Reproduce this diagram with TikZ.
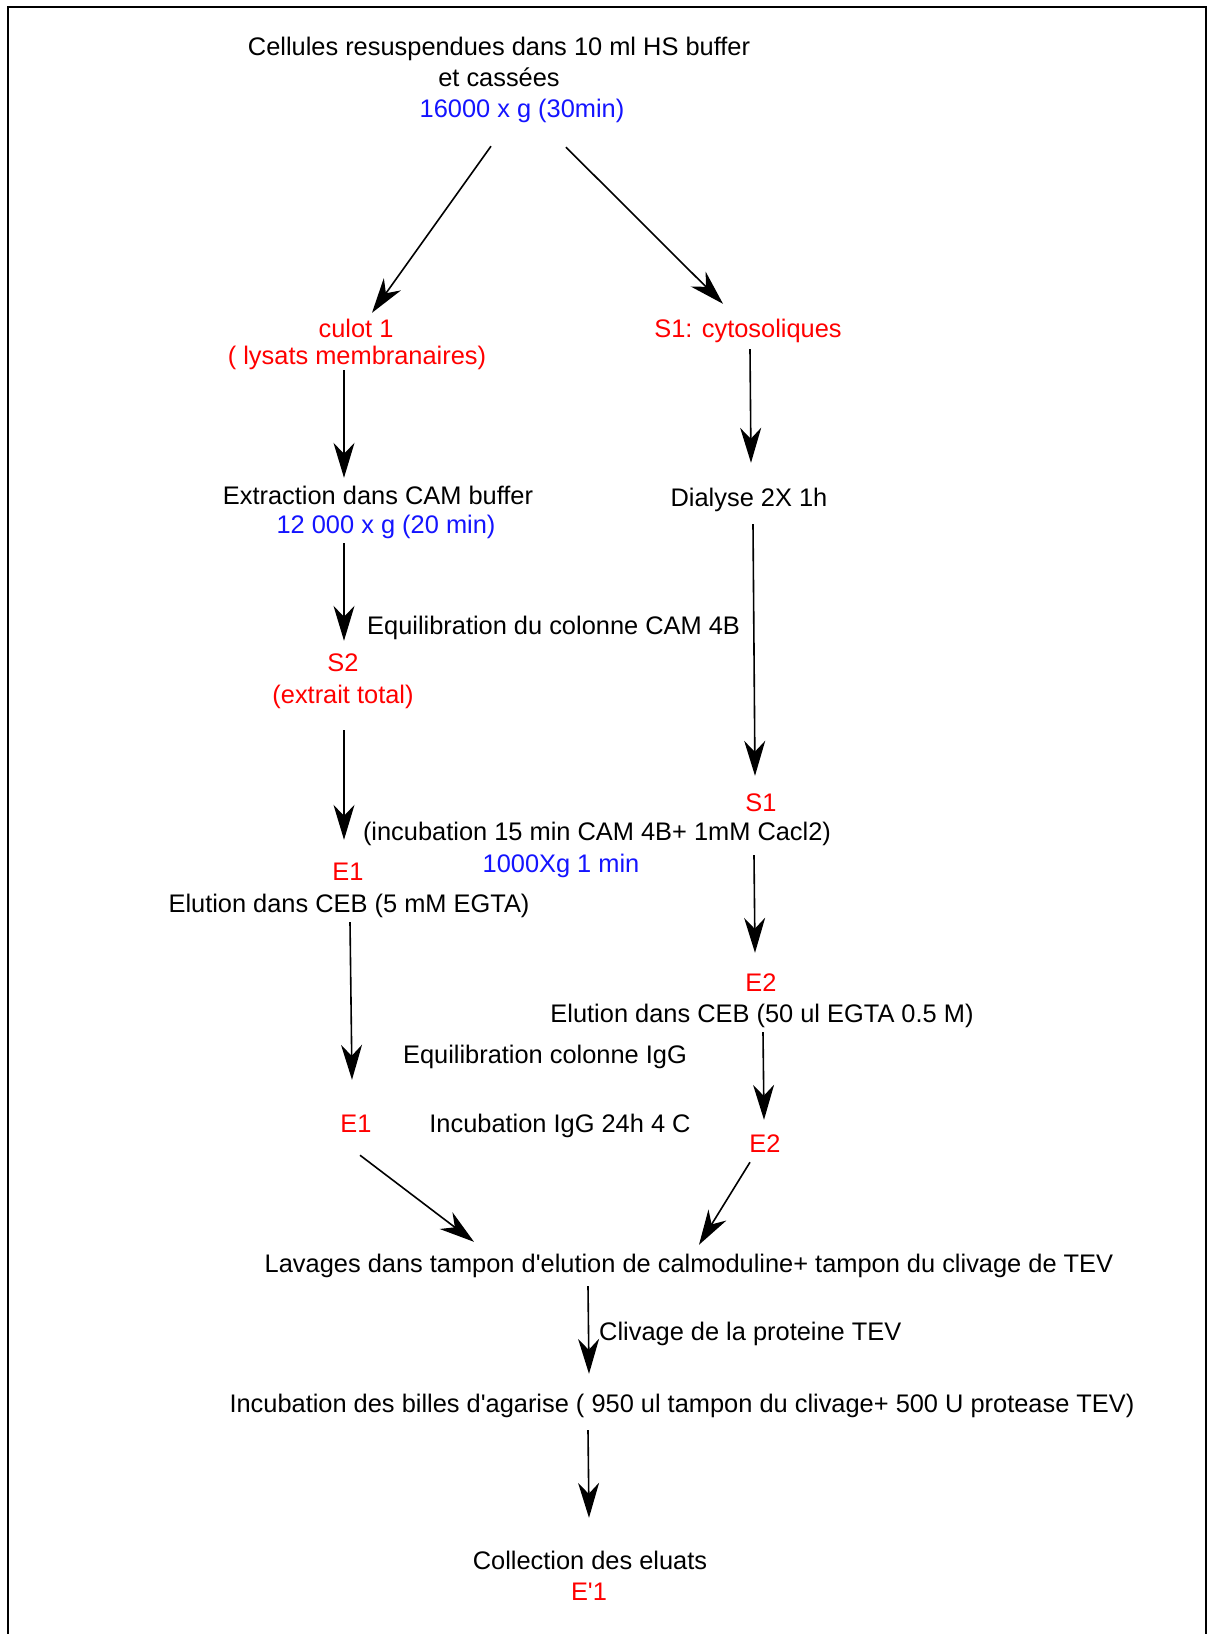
\documentclass[tikz,border=0pt]{standalone}
\usepackage{fontspec}
\setmainfont{Liberation Sans}
\usetikzlibrary{arrows.meta}
\definecolor{rouge}{RGB}{255,0,0}
\definecolor{bleu}{RGB}{20,20,255}

\begin{document}
\begin{tikzpicture}[x=1pt,y=-1pt,
  etape/.style={inner sep=0pt,text height=18pt,text depth=0pt,font=\fontsize{25.4}{30}\selectfont},
  fraction/.style={etape,text=rouge},
  vitesse/.style={etape,text=bleu},
  fleche/.style={line width=1.6pt,-{Stealth[length=35pt,width=21pt,inset=11pt]}}]
\useasboundingbox (0,0) rectangle (1208,1634);
\draw[line width=2pt] (8,1640) -- (8,7) -- (1206,7) -- (1206,1640);

% depart
\node[etape] (cells) at (499,46) {Cellules resuspendues dans 10 ml HS buffer};
\node[etape] (casse) at (499,77) {et cassées};
\node[vitesse] (g16) at (522,108) {16000 x g (30min)};

% colonne gauche
\node[fraction] (culot) at (356,328) {culot 1};
\node[fraction] (lysat) at (357,355) {( lysats membranaires)};
\node[etape] (extract) at (378,495) {Extraction dans CAM buffer};
\node[vitesse] (g12) at (386,524) {12 000 x g (20 min)};
\node[etape,anchor=west] (equicam) at (367,625) {Equilibration du colonne CAM 4B};
\node[fraction] (s2) at (343,662) {S2};
\node[fraction] (total) at (343,694) {(extrait total)};
\node[fraction] (e1a) at (348,871) {E1};
\node[etape] (elu1) at (349,903) {Elution dans CEB (5 mM EGTA)};
\node[fraction] (e1b) at (356,1123) {E1};

% colonne droite
\node[fraction] (cyto) at (748,328) {S1: cytosoliques};
\node[etape] (dialyse) at (749,497) {Dialyse 2X 1h};
\node[fraction] (s1) at (761,802) {S1};
\node[etape] (incub) at (597,831) {(incubation 15 min CAM 4B+ 1mM Cacl2)};
\node[vitesse] (g1) at (561,863) {1000Xg 1 min};
\node[fraction] (e2a) at (761,982) {E2};
\node[etape] (elu2) at (762,1013) {Elution dans CEB (50 ul EGTA 0.5 M)};
\node[etape] (equigg) at (545,1054) {Equilibration colonne IgG};
\node[etape] (incigg) at (560,1123) {Incubation IgG 24h 4 C};
\node[fraction] (e2b) at (765,1143) {E2};

% fin
\node[etape] (lavage) at (689,1263) {Lavages dans tampon d\textquotesingle elution de calmoduline+ tampon du clivage de TEV};
\node[etape,anchor=west] (clivage) at (599,1331) {Clivage de la proteine TEV};
\node[etape] (billes) at (682,1403) {Incubation des billes d\textquotesingle agarise ( 950 ul tampon du clivage+ 500 U protease TEV)};
\node[etape] (collect) at (590,1560) {Collection des eluats};
\node[fraction] (eprime) at (589,1591) {E\textquotesingle 1};

\draw[fleche] ([shift={(-31,29)}]g16.south) -- ([shift={(16,-6)}]culot.north);
\draw[fleche] ([shift={(44,30)}]g16.south) -- ([shift={(-25,-15)}]cyto.north);
\draw[fleche] ([shift={(-13,6)}]lysat.south) -- ([shift={(-34,-8)}]extract.north);
\draw[fleche] ([shift={(2,12)}]cyto.south) -- ([shift={(2,-25)}]dialyse.north);
\draw[fleche] ([shift={(-42,10)}]g12.south) -- ([shift={(1,-12)}]s2.north);
\draw[fleche] ([shift={(4,18)}]dialyse.south) -- ([shift={(-6,-17)}]s1.north);
\draw[fleche] ([shift={(1,27)}]total.south) -- ([shift={(-4,-22)}]e1a.north);
\draw[fleche] ([shift={(-7,44)}]s1.south) -- ([shift={(-6,-20)}]e2a.north);
\draw[fleche] ([shift={(1,10)}]elu1.south) -- ([shift={(-4,-34)}]e1b.north);
\draw[fleche] ([shift={(1,10)}]elu2.south) -- ([shift={(-1,-14)}]e2b.north);
\draw[fleche] ([shift={(4,23)}]e1b.south) -- ([shift={(-215,-12)}]lavage.north);
\draw[fleche] ([shift={(-15,10)}]e2b.south) -- ([shift={(10,-9)}]lavage.north);
\draw[fleche] ([shift={(-101,14)}]lavage.south) -- ([shift={(-93,-20)}]billes.north);
\draw[fleche] ([shift={(-94,18)}]billes.south) -- ([shift={(-1,-33)}]collect.north);
\end{tikzpicture}
\end{document}
